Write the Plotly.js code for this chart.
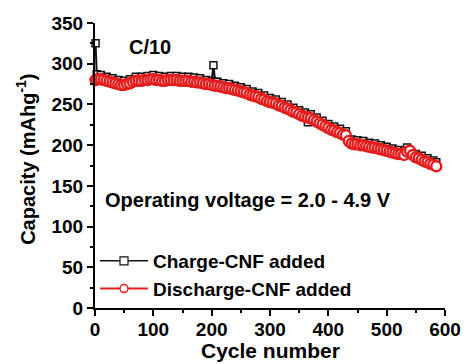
<!DOCTYPE html>
<html>
<head>
<meta charset="utf-8">
<script src="https://cdn.plot.ly/plotly-3.0.1.min.js"></script>
<style>html,body{margin:0;padding:0;background:#fff;}#chart{width:466px;height:364px;}</style>
</head>
<body>
<div id="chart"></div>
<script>
var chargeCycles = [1, 3, 10, 20, 30, 40, 50, 60, 70, 80, 90, 100, 110, 120, 130, 140, 150, 160, 170, 180, 190, 200, 203, 206, 210, 220, 230, 240, 250, 260, 270, 280, 290, 300, 310, 320, 330, 340, 350, 360, 365, 370, 380, 390, 400, 410, 420, 430, 440, 450, 460, 470, 480, 490, 500, 510, 520, 530, 535, 540, 550, 560, 570, 580, 585];
var chargeCapacity = [325, 287, 286, 284, 282, 280, 279, 281, 284, 284, 285, 286, 285, 284, 285, 285, 284, 284, 283, 282, 280, 279, 298, 278, 278, 276, 275, 273, 271, 269, 266, 264, 261, 258, 256, 253, 250, 246, 243, 240, 228, 238, 234, 230, 226, 223, 220, 217, 207, 206, 205, 203, 202, 200, 198, 196, 194, 193, 197, 191, 189, 187, 184, 181, 179];

var dischargeCycles = [1, 5, 10, 15, 20, 25, 30, 35, 40, 45, 50, 55, 60, 65, 70, 75, 80, 85, 90, 95, 100, 105, 110, 115, 120, 125, 130, 135, 140, 145, 150, 155, 160, 165, 170, 175, 180, 185, 190, 195, 200, 205, 210, 215, 220, 225, 230, 235, 240, 245, 250, 255, 260, 265, 270, 275, 280, 285, 290, 295, 300, 305, 310, 315, 320, 325, 330, 335, 340, 345, 350, 355, 360, 365, 370, 375, 380, 385, 390, 395, 400, 405, 410, 415, 420, 425, 430, 435, 440, 445, 450, 455, 460, 465, 470, 475, 480, 485, 490, 495, 500, 505, 510, 515, 520, 525, 530, 535, 540, 545, 550, 555, 560, 565, 570, 575, 580, 585];
var dischargeCapacity = [280, 281, 281, 280, 279, 278, 277, 276, 275, 274, 274, 275, 276, 278, 279, 279, 279, 280, 280, 281, 281, 280, 280, 279, 279, 280, 280, 280, 280, 279, 279, 279, 279, 278, 278, 277, 277, 276, 275, 275, 274, 273, 273, 272, 271, 270, 270, 269, 268, 267, 266, 265, 264, 262, 261, 260, 259, 257, 256, 254, 253, 252, 251, 249, 248, 246, 245, 243, 241, 240, 238, 236, 235, 234, 233, 231, 229, 227, 225, 223, 221, 219, 218, 216, 215, 213, 212, 205, 202, 201, 201, 200, 200, 199, 198, 197, 197, 196, 195, 194, 193, 192, 191, 190, 189, 189, 188, 192, 193, 188, 185, 184, 182, 180, 179, 177, 176, 174];

var seriesNames = ['Charge-CNF added', 'Discharge-CNF added'];
var xTicks = [0, 100, 200, 300, 400, 500, 600];
var yTicks = [0, 50, 100, 150, 200, 250, 300, 350];

var FONT = 'Liberation Sans, Arial, sans-serif';
var BLACK = '#111', RED = '#e41c1c';

var traces = [
  {
    x: chargeCycles, y: chargeCapacity, name: seriesNames[0], showlegend: false,
    type: 'scatter', mode: 'lines+markers', cliponaxis: false,
    line: {color: BLACK, width: 2},
    marker: {symbol: 'square', size: 7, color: '#fff', line: {color: BLACK, width: 1.5}}
  },
  {
    x: dischargeCycles, y: dischargeCapacity, name: seriesNames[1], showlegend: false,
    type: 'scatter', mode: 'lines+markers', cliponaxis: false,
    line: {color: RED, width: 2.5},
    marker: {symbol: 'circle', size: 10, color: '#fff', line: {color: RED, width: 2.5}}
  },
  // legend entries (styled as in the reference legend)
  {
    x: [null], y: [null], name: seriesNames[0], type: 'scatter', mode: 'lines+markers',
    line: {color: BLACK, width: 1.5},
    marker: {symbol: 'square', size: 8, color: '#fff', line: {color: BLACK, width: 1.2}}
  },
  {
    x: [null], y: [null], name: seriesNames[1], type: 'scatter', mode: 'lines+markers',
    line: {color: RED, width: 2},
    marker: {symbol: 'circle', size: 8, color: '#fff', line: {color: RED, width: 1.5}}
  }
];

var axisCommon = {
  showline: true, linecolor: '#000', linewidth: 2,
  ticks: 'outside', ticklen: 6, tickwidth: 2, tickcolor: '#000',
  showgrid: false, zeroline: false,
  tickfont: {family: FONT, size: 19, color: '#000', weight: 'bold'}
};

var layout = {
  width: 466, height: 364,
  margin: {l: 95, r: 21, t: 23, b: 56},
  paper_bgcolor: '#fff', plot_bgcolor: '#fff',
  showlegend: true,
  legend: {
    x: 0.0, y: 0.0, xanchor: 'left', yanchor: 'bottom',
    bgcolor: 'rgba(0,0,0,0)', itemwidth: 48, tracegroupgap: 0,
    font: {family: FONT, size: 19, color: '#000', weight: 'bold'}
  },
  xaxis: Object.assign({}, axisCommon, {
    range: [0, 600], tickmode: 'array', tickvals: xTicks, ticklabelstandoff: -3,
    minor: {dtick: 50, ticks: 'outside', ticklen: 3, tickwidth: 2, tickcolor: '#000'}
  }),
  yaxis: Object.assign({}, axisCommon, {
    range: [0, 350], tickmode: 'array', tickvals: yTicks,
    minor: {dtick: 25, ticks: 'outside', ticklen: 3, tickwidth: 2, tickcolor: '#000'}
  }),
  annotations: [
    {text: 'Cycle number', x: 0.5, y: -0.15, xref: 'paper', yref: 'paper', yanchor: 'middle', showarrow: false,
     font: {family: FONT, size: 21, color: '#000', weight: 'bold'}},
    {text: 'Capacity (mAhg<sup>-1</sup>)', x: -0.197, y: 0.52, xref: 'paper', yref: 'paper', xanchor: 'center', yanchor: 'middle',
     textangle: -90, showarrow: false, font: {family: FONT, size: 20, color: '#000', weight: 'bold'}},
    {text: 'C/10', x: 94, y: 320, xref: 'x', yref: 'y', showarrow: false,
     font: {family: FONT, size: 20, color: '#000', weight: 'bold'}},
    {text: 'Operating voltage = 2.0 - 4.9 V', x: 13, y: 133, xref: 'x', yref: 'y', xanchor: 'left', showarrow: false,
     font: {family: FONT, size: 20, color: '#000', weight: 'bold'}}
  ]
};

Plotly.newPlot('chart', traces, layout, {displayModeBar: false, staticPlot: true});
</script>
</body>
</html>
